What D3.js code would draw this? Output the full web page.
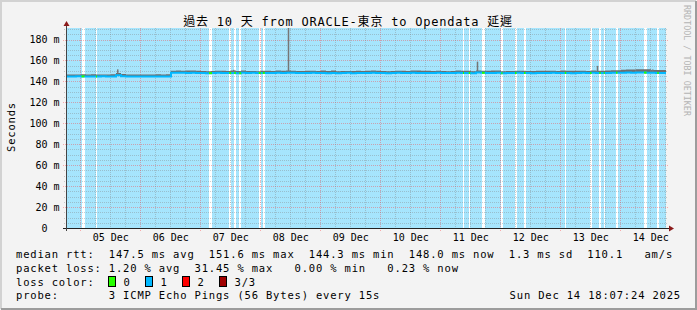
<!DOCTYPE html>
<html>
<head>
<meta charset="utf-8">
<script src="https://cdn.jsdelivr.net/npm/d3@7/dist/d3.min.js"></script>
<style>
  html, body { margin: 0; padding: 0; background: #f3f3f3; }
  svg text { font-family: "DejaVu Sans Mono", "Noto Sans CJK TC", monospace; white-space: pre; }
</style>
</head>
<body>
<svg id="chart" width="697" height="310"></svg>
<script>
// ---- data ----
const startTime = Date.UTC(2025, 11, 4, 18, 7, 24);
const endTime = Date.UTC(2025, 11, 14, 18, 7, 24);

const yTicks = [0, 20, 40, 60, 80, 100, 120, 140, 160, 180];

// median rtt (ms), one value per 2 hours from the start
const medianRtt = [
  144.8, 144.8, 144.9, 144.8, 144.7, 144.8, 144.8, 144.9, 144.8, 144.8, 145.9, 144.9,
  144.8, 144.7, 144.8, 144.8, 144.8, 144.8, 144.8, 144.7, 144.8, 148.2, 148.3, 148.2,
  148.1, 148.2, 148.0, 148.1, 147.9, 148.1, 148.2, 148.1, 148.0, 148.1, 147.8, 148.2,
  148.1, 148.2, 148.0, 148.1, 148.1, 148.0, 148.2, 148.1, 148.3, 148.2, 148.1, 148.0,
  148.1, 148.2, 148.0, 148.1, 147.7, 148.1, 147.8, 148.1, 148.2, 147.9, 148.1, 148.0,
  148.1, 148.2, 148.1, 148.0, 147.9, 148.1, 148.2, 148.1, 148.0, 148.2, 148.1, 148.0,
  148.1, 148.0, 148.2, 148.1, 148.0, 148.1, 148.2, 148.1, 148.0, 147.8, 148.4, 148.2,
  148.0, 148.1, 148.2, 147.9, 148.1, 148.0, 148.2, 148.1, 148.0, 147.8, 148.1, 148.0,
  148.1, 148.2, 148.0, 148.1, 148.0, 147.9, 148.1, 148.2, 148.0, 148.3, 148.1, 148.0,
  148.1, 148.2, 148.3, 148.2, 148.4, 148.3, 148.5, 148.4, 148.3, 148.2, 148.1, 148.0
];

// smoke spread above the median (ms), one value per 6 hours
const smokeSpread = [
  1.8, 2.0, 1.8, 2.1, 1.9, 1.8, 2.0, 2.0,
  2.2, 1.8, 2.0, 2.2, 1.8, 2.0, 2.1, 1.9,
  2.0, 2.2, 1.8, 2.0, 2.1, 1.9, 2.0, 2.2,
  2.0, 1.8, 2.1, 2.0, 2.2, 1.9, 2.0, 2.1,
  2.0, 2.2, 2.0, 2.1, 2.4, 3.0, 3.2, 2.8
];

// single ping spikes: hours from start, max rtt (ms)
const peakHours = [20.4, 66.8, 88.7, 164.3, 212.3, 227.6, 233.6, 234.4];
const peakValues = [151.5, 151.0, 260.0, 158.9, 154.8, 150.8, 151.0, 151.4];

// periods without loss (hours from start, length in hours)
const zeroLossStart = [6.2, 12.0, 57.2, 65.3, 67.3, 69.3, 77.1, 78.7, 158.8, 161.1, 166.4,
  174.1, 179.6, 183.2, 199.5, 209.6, 213.3, 215.1, 220.0, 231.2, 236.5];
const zeroLossHours = [1.2, 0.4, 1.2, 0.8, 0.6, 0.8, 0.8, 0.8, 0.4, 0.6, 1.1,
  0.5, 0.6, 0.6, 0.6, 0.6, 0.6, 0.4, 0.6, 1.0, 0.6];

const lossLabels = ['0', '1', '2', '3/3'];
const lossColors = ['#26ff00', '#00b8ff', '#ff0000', '#a00000'];

const titleText = '過去 10 天 from ORACLE-東京 to Opendata 延遲';
const legendLines = [
  'median rtt:  147.5 ms avg  151.6 ms max  144.3 ms min  148.0 ms now  1.3 ms sd  110.1   am/s',
  'packet loss: 1.20 % avg  31.45 % max   0.00 % min   0.23 % now',
  'loss color:',
  'probe:       3 ICMP Echo Pings (56 Bytes) every 15s'
];
const stampText = 'Sun Dec 14 18:07:24 2025';

// ---- drawing ----
const H = 3600e3;
const svg = d3.select('#chart');
const x = d3.scaleUtc().domain([startTime, endTime]).range([66, 666]);
const y = d3.scaleLinear().domain([0, 191]).range([228, 28]);
const hx = h => x(startTime + h * H);

// frame
svg.append('rect').attr('width', 697).attr('height', 310).attr('fill', '#f3f3f3');
svg.append('path').attr('d', 'M1,309V1H696').attr('fill', 'none').attr('stroke', '#d2d2d2').attr('stroke-width', 2);
svg.append('path').attr('d', 'M1,309H696V1').attr('fill', 'none').attr('stroke', '#9c9c9c').attr('stroke-width', 2);

// canvas
svg.append('rect').attr('x', 66).attr('y', 28).attr('width', 600).attr('height', 200).attr('fill', '#fff');

// loss background: everywhere except the zero loss periods
let lossSpans = [];
let cur = 0;
zeroLossStart.forEach((s, i) => {
  lossSpans.push([cur, s]);
  cur = s + zeroLossHours[i];
});
lossSpans.push([cur, 240]);
svg.append('g').attr('shape-rendering', 'crispEdges')
  .selectAll('rect').data(lossSpans).enter().append('rect')
  .attr('x', d => hx(d[0]))
  .attr('width', d => hx(d[1]) - hx(d[0]))
  .attr('y', y(191)).attr('height', y(0) - y(191))
  .attr('fill', '#a6e5fd');

// grid
const grid = svg.append('g').attr('shape-rendering', 'crispEdges');
const minorY = d3.range(5, 191, 5).filter(v => v % 20 !== 0);
const majorY = d3.range(20, 191, 20);
grid.selectAll('.hmin').data(minorY).enter().append('line')
  .attr('x1', 64).attr('x2', 668)
  .attr('y1', d => Math.round(y(d)) + 0.5).attr('y2', d => Math.round(y(d)) + 0.5)
  .attr('stroke', 'rgba(130,130,130,0.38)').attr('stroke-dasharray', '1,1');
grid.selectAll('.hmaj').data(majorY).enter().append('line')
  .attr('x1', 63).attr('x2', 669)
  .attr('y1', d => Math.round(y(d)) + 0.5).attr('y2', d => Math.round(y(d)) + 0.5)
  .attr('stroke', 'rgba(255,60,60,0.4)').attr('stroke-dasharray', '1,1');

const days = d3.utcDay.range(startTime, endTime);
const sixHours = d3.utcHour.every(6).range(startTime, endTime).filter(t => t.getUTCHours() !== 0);
grid.selectAll('.vmin').data(sixHours).enter().append('line')
  .attr('x1', d => Math.floor(x(d)) + 0.5).attr('x2', d => Math.floor(x(d)) + 0.5)
  .attr('y1', 28).attr('y2', 230)
  .attr('stroke', 'rgba(130,130,130,0.38)').attr('stroke-dasharray', '1,1');
grid.selectAll('.vmaj').data(days).enter().append('line')
  .attr('x1', d => Math.floor(x(d)) + 0.5).attr('x2', d => Math.floor(x(d)) + 0.5)
  .attr('y1', 28).attr('y2', 231)
  .attr('stroke', 'rgba(255,60,60,0.4)').attr('stroke-dasharray', '1,1');

// smoke
const medianPts = medianRtt.map((v, i) => [i * 2, v]);
medianPts.push([240, medianRtt[medianRtt.length - 1]]);
const medAt = h => medianRtt[Math.min(medianRtt.length - 1, Math.floor(h / 2))];
const smokePts = d3.range(0, 240.01, 0.4).map(h => [h, medAt(h), smokeSpread[Math.min(39, Math.floor(h / 6))]]);
svg.append('path')
  .datum(smokePts)
  .attr('d', d3.area().curve(d3.curveStepAfter)
    .x(d => hx(d[0]))
    .y0(d => y(d[1]))
    .y1(d => y(d[1] + d[2])))
  .attr('fill', '#6e6e6e');

svg.append('g').selectAll('rect').data(peakHours).enter().append('rect')
  .attr('x', d => hx(d))
  .attr('width', hx(0.6) - hx(0))
  .attr('y', (d, i) => y(Math.min(191, peakValues[i])))
  .attr('height', (d, i) => y(medAt(d)) - y(Math.min(191, peakValues[i])))
  .attr('fill', '#767676');

// median line coloured by loss
svg.append('path')
  .datum(medianPts)
  .attr('d', d3.line().curve(d3.curveStepAfter).x(d => hx(d[0])).y(d => y(d[1])))
  .attr('fill', 'none').attr('stroke', lossColors[1]).attr('stroke-width', 2);
svg.append('g').selectAll('line').data(zeroLossStart).enter().append('line')
  .attr('x1', d => hx(d))
  .attr('x2', (d, i) => hx(d + zeroLossHours[i]))
  .attr('y1', d => y(medAt(d))).attr('y2', d => y(medAt(d)))
  .attr('stroke', lossColors[0]).attr('stroke-width', 2);

// axes
svg.append('line').attr('x1', 63).attr('x2', 670).attr('y1', 228.5).attr('y2', 228.5)
  .attr('stroke', '#222');
svg.append('line').attr('x1', 66.5).attr('x2', 66.5).attr('y1', 231).attr('y2', 24)
  .attr('stroke', '#444');
svg.append('path').attr('d', 'M669,225.5L674,228.5L669,231.5Z').attr('fill', '#8b1a1a');
svg.append('path').attr('d', 'M63.5,26L66.5,21L69.5,26Z').attr('fill', '#8b1a1a');

// y labels
svg.append('g').selectAll('text').data(yTicks).enter().append('text')
  .attr('x', 59.5).attr('y', d => y(d) + 3.5)
  .attr('text-anchor', 'end')
  .attr('font-size', '10px').attr('fill', '#000')
  .text(d => d === 0 ? '0  ' : d + ' m');

// x labels at noon
svg.append('g').selectAll('text').data(days).enter().append('text')
  .attr('x', d => x(d3.utcHour.offset(d, 12)))
  .attr('y', 241)
  .attr('text-anchor', 'middle')
  .attr('font-size', '10px').attr('fill', '#000')
  .text(d => d3.utcFormat('%d %b')(d));

// title
svg.append('text').attr('x', 348).attr('y', 26)
  .attr('text-anchor', 'middle')
  .attr('font-size', '12px').attr('letter-spacing', '0.78px')
  .text(titleText);

// y title
svg.append('text').attr('transform', 'translate(15,127) rotate(-90)')
  .attr('text-anchor', 'middle')
  .attr('font-size', '10.5px').attr('letter-spacing', '0.82px')
  .text('Seconds');

// watermark
svg.append('text').attr('transform', 'translate(684,5) rotate(90)')
  .attr('font-size', '8.4px').attr('fill', '#b4b4b4')
  .text('RRDTOOL / TOBI OETIKER');

// legend
const legendY = [258, 271.7, 285.5, 299.2];
svg.append('g').selectAll('text').data(legendLines).enter().append('text')
  .attr('x', 16).attr('y', (d, i) => legendY[i])
  .attr('font-size', '10.5px').attr('letter-spacing', '0.82px')
  .text(d => d);

const boxX = [108.5, 145.5, 182.5, 219.5];
const lg = svg.append('g');
lg.selectAll('rect').data(lossColors).enter().append('rect')
  .attr('x', (d, i) => boxX[i]).attr('y', 276.5)
  .attr('width', 7).attr('height', 10)
  .attr('fill', d => d).attr('stroke', '#000');
lg.selectAll('text').data(lossLabels).enter().append('text')
  .attr('x', (d, i) => boxX[i] + 15).attr('y', legendY[2])
  .attr('font-size', '10.5px').attr('letter-spacing', '0.82px')
  .text(d => d);

svg.append('text').attr('x', 681).attr('y', legendY[3])
  .attr('text-anchor', 'end')
  .attr('font-size', '10.5px').attr('letter-spacing', '0.82px')
  .text(stampText);
</script>
</body>
</html>
